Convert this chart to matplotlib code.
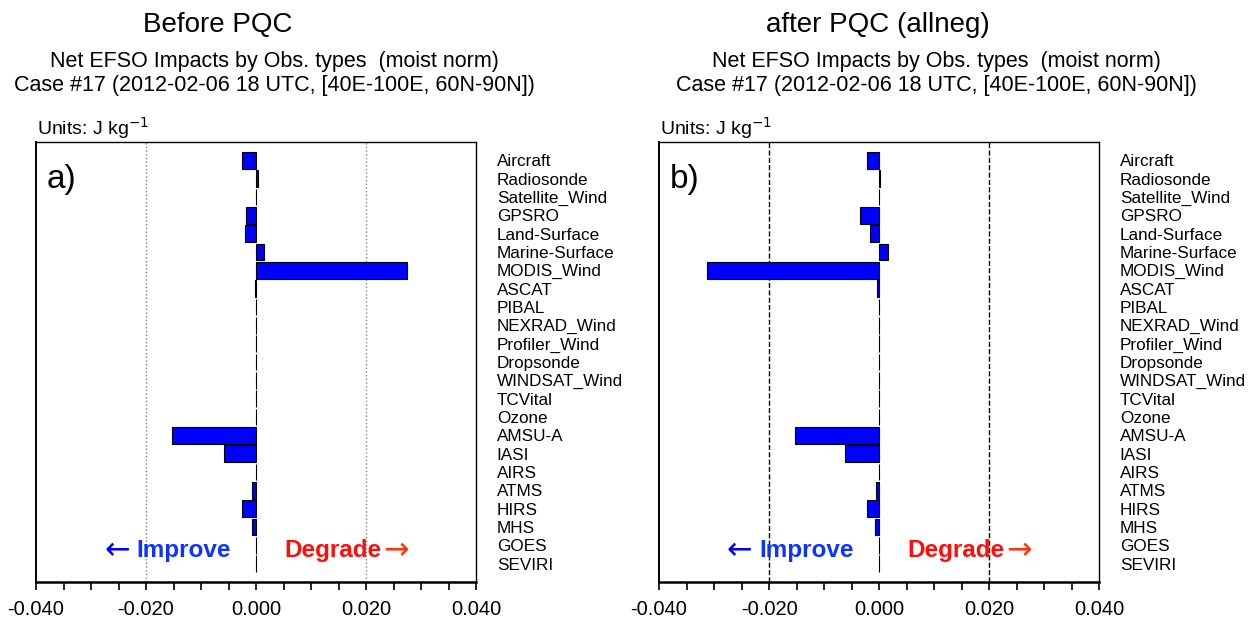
import numpy as np
import matplotlib
matplotlib.use("Agg")
import matplotlib.pyplot as plt
from matplotlib.ticker import MultipleLocator

plt.rcParams['font.family'] = ['Liberation Sans', 'DejaVu Sans']

obs_types = ["Aircraft", "Radiosonde", "Satellite_Wind", "GPSRO", "Land-Surface",
             "Marine-Surface", "MODIS_Wind", "ASCAT", "PIBAL", "NEXRAD_Wind",
             "Profiler_Wind", "Dropsonde", "WINDSAT_Wind", "TCVital", "Ozone",
             "AMSU-A", "IASI", "AIRS", "ATMS", "HIRS", "MHS", "GOES", "SEVIRI"]

before_pqc = [-0.0025, 0.0003, 0.0, -0.0018, -0.0020, 0.0014, 0.0275, -0.0001,
              0.0, 0.0, 0.0, 0.0, 0.0, 0.0, 0.0,
              -0.0152, -0.0058, 0.0, -0.0007, -0.0025, -0.0007, 0.0, 0.0]

after_pqc = [-0.0022, 0.0002, 0.0, -0.0035, -0.0017, 0.0017, -0.0313, -0.0004,
             0.0, 0.0, 0.0, 0.0, 0.0, 0.0, 0.0,
             -0.0153, -0.0062, 0.0, -0.0006, -0.0021, -0.0007, 0.0, 0.0]

W, H = 1258, 625
fig = plt.figure(figsize=(W / 100, H / 100), dpi=100)

panels = [
    (36, before_pqc, "a)", "Before PQC", 218, 274, (0.5, 0.5, 0.5), ":"),
    (659, after_pqc, "b)", "after PQC (allneg)", 878, 936, "black", "--"),
]

ypos = np.arange(1, len(obs_types) + 1)

for left, vals, tag, title, tx, sx, gcol, gls in panels:
    ax = fig.add_axes([left / W, 43 / H, 440 / W, 440 / H])
    ax.barh(ypos, vals, height=0.92, color=(0, 0, 1), edgecolor="black", linewidth=0.8, zorder=3)
    ax.set_xlim(-0.04, 0.04)
    ax.set_ylim(len(obs_types) + 1, 0)
    for g in (-0.02, 0.02):
        ax.axvline(g, color=gcol, linestyle=gls, linewidth=1.0, zorder=1)

    ax.xaxis.set_minor_locator(MultipleLocator(0.005))
    ax.set_xticks([-0.04, -0.02, 0.0, 0.02, 0.04])
    ax.set_xticklabels(["-0.040", "-0.020", "0.000", "0.020", "0.040"], fontsize=14.5)
    ax.tick_params(axis="x", which="both", direction="out", length=6, width=1.2, pad=7)

    ax.yaxis.set_ticks_position("right")
    ax.set_yticks(ypos)
    ax.set_yticklabels(obs_types, fontsize=12.3)
    ax.tick_params(axis="y", length=0, pad=15)
    for s in ax.spines.values():
        s.set_linewidth(1.0)
    ax.spines["bottom"].set_linewidth(1.8)
    ax.spines["left"].set_linewidth(1.4)

    ax.text(0.025, 0.915, tag, transform=ax.transAxes, fontsize=24, va="center", ha="left")
    ax.text(-0.0230, 22.3, "\u2190", color=(0, 0, 1), fontsize=22,
            family="DejaVu Sans", ha="right", va="center")
    ax.text(-0.0217, 22.3, "Improve", color=(0.05, 0.2, 1.0), fontsize=17.5,
            fontweight="bold", ha="left", va="center")
    ax.text(0.0052, 22.3, "Degrade", color=(1.0, 0.05, 0.05), fontsize=17.5,
            fontweight="bold", ha="left", va="center")
    ax.text(0.0232, 22.3, "\u2192", color=(1.0, 0.2, 0.05), fontsize=22,
            family="DejaVu Sans", ha="left", va="center")

    fig.text(tx / W, 1 - 25 / H, title, fontsize=20, ha="center", va="center")
    fig.text(sx / W, 1 - 61 / H, "Net EFSO Impacts by Obs. types  (moist norm)",
             fontsize=15.5, ha="center", va="center")
    fig.text(sx / W, 1 - 86 / H, "Case #17 (2012-02-06 18 UTC, [40E-100E, 60N-90N])",
             fontsize=15.5, ha="center", va="center")
    fig.text((left + 1) / W, 1 - 128 / H, "Units: J kg$^{-1}$", fontsize=14,
             ha="left", va="center")

fig.savefig("out.png", dpi=100)
